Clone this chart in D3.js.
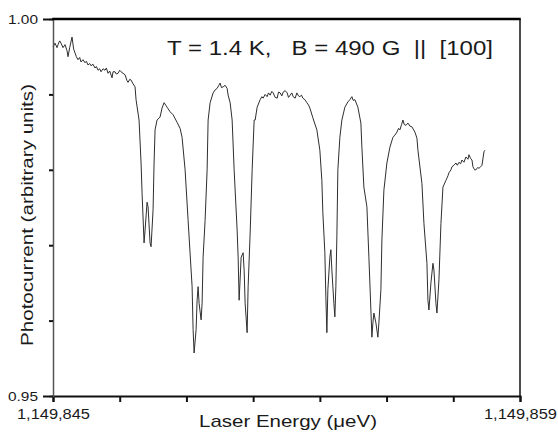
<!DOCTYPE html>
<html>
<head>
<meta charset="utf-8">
<script src="https://cdn.jsdelivr.net/npm/d3@7/dist/d3.min.js"></script>
<style>
  html, body { margin: 0; padding: 0; background: #fff; }
  svg { display: block; }
  text { font-family: "Liberation Sans", Arial, sans-serif; fill: #1a1a1a; }
</style>
</head>
<body>
<svg id="chart" width="558" height="433"></svg>
<script>
// ---- Data ----
const baseEnergy = 1149845; // μeV
const energyOffset = [
  0, 0.06, 0.12, 0.15, 0.20, 0.24, 0.30, 0.36, 0.42, 0.45, 0.50, 0.57, 0.62, 0.66, 0.70, 0.75, 0.80, 0.84, 0.90, 0.96,
  1.00, 1.05, 1.10, 1.14, 1.20, 1.26, 1.30, 1.35, 1.40, 1.44, 1.50, 1.56, 1.60, 1.65, 1.70, 1.77, 1.80, 1.86, 1.90, 1.95,
  2.00, 2.04, 2.10, 2.16, 2.22, 2.25, 2.30, 2.34, 2.40, 2.46, 2.49, 2.58, 2.64, 2.67, 2.73, 2.76, 2.82, 2.85, 2.91, 2.94,
  3.00, 3.03, 3.06, 3.12, 3.21, 3.27, 3.33, 3.39, 3.42, 3.51, 3.60, 3.72, 3.81, 3.87, 3.96, 4.05, 4.17, 4.20, 4.23, 4.29,
  4.32, 4.35, 4.38, 4.44, 4.47, 4.50, 4.56, 4.62, 4.65, 4.71, 4.80, 4.86, 4.92, 4.97, 5.01, 5.05, 5.10, 5.16, 5.22, 5.25,
  5.31, 5.37, 5.43, 5.52, 5.55, 5.58, 5.64, 5.70, 5.73, 5.76, 5.82, 5.85, 5.91, 5.97, 6.03, 6.06, 6.12, 6.21, 6.26, 6.30,
  6.36, 6.42, 6.46, 6.51, 6.56, 6.60, 6.66, 6.72, 6.76, 6.81, 6.86, 6.90, 6.96, 7.02, 7.06, 7.11, 7.16, 7.20, 7.26, 7.31,
  7.36, 7.40, 7.45, 7.49, 7.55, 7.61, 7.66, 7.70, 7.79, 7.91, 8.00, 8.06, 8.09, 8.15, 8.18, 8.21, 8.24, 8.30, 8.33, 8.36,
  8.42, 8.45, 8.48, 8.51, 8.54, 8.60, 8.66, 8.75, 8.84, 8.90, 8.96, 9.00, 9.05, 9.14, 9.23, 9.26, 9.32, 9.41, 9.47, 9.53,
  9.56, 9.59, 9.62, 9.68, 9.74, 9.77, 9.83, 9.86, 9.92, 10.01, 10.10, 10.19, 10.25, 10.31, 10.36, 10.40, 10.45, 10.49, 10.53, 10.58,
  10.64, 10.70, 10.76, 10.85, 10.91, 10.94, 11.06, 11.12, 11.21, 11.24, 11.27, 11.33, 11.39, 11.42, 11.48, 11.51, 11.57, 11.63, 11.69, 11.78,
  11.84, 11.87, 11.93, 11.96, 12.02, 12.08, 12.12, 12.17, 12.22, 12.26, 12.32, 12.38, 12.44, 12.47, 12.52, 12.56, 12.59, 12.64, 12.68, 12.73,
  12.77, 12.82, 12.86, 12.92, 12.95
];
const photocurrent = [
  0.9963, 0.9968, 0.9962, 0.9966, 0.9971, 0.9968, 0.9962, 0.9966, 0.9958, 0.9950, 0.9962, 0.9976, 0.9960, 0.9955, 0.9950, 0.9946, 0.9949, 0.9943, 0.9946, 0.9942,
  0.9944, 0.9939, 0.9941, 0.9938, 0.9940, 0.9935, 0.9937, 0.9932, 0.9934, 0.9930, 0.9934, 0.9932, 0.9935, 0.9928, 0.9931, 0.9922, 0.9930, 0.9930, 0.9927, 0.9928,
  0.9932, 0.9930, 0.9928, 0.9926, 0.9918, 0.9916, 0.9920, 0.9919, 0.9914, 0.9910, 0.9893, 0.9866, 0.9809, 0.9769, 0.9703, 0.9720, 0.9757, 0.9751, 0.9703, 0.9698,
  0.9747, 0.9809, 0.9853, 0.9866, 0.9870, 0.9882, 0.9889, 0.9885, 0.9883, 0.9877, 0.9873, 0.9863, 0.9855, 0.9843, 0.9800, 0.9733, 0.9645, 0.9588, 0.9557, 0.9588,
  0.9627, 0.9645, 0.9623, 0.9601, 0.9623, 0.9684, 0.9733, 0.9800, 0.9866, 0.9889, 0.9902, 0.9906, 0.9908, 0.9912, 0.9915, 0.9909, 0.9910, 0.9912, 0.9908, 0.9899,
  0.9889, 0.9866, 0.9800, 0.9720, 0.9684, 0.9627, 0.9684, 0.9690, 0.9667, 0.9623, 0.9584, 0.9645, 0.9716, 0.9800, 0.9866, 0.9866, 0.9883, 0.9893, 0.9897, 0.9895,
  0.9900, 0.9897, 0.9902, 0.9899, 0.9904, 0.9902, 0.9896, 0.9895, 0.9903, 0.9902, 0.9898, 0.9903, 0.9905, 0.9902, 0.9896, 0.9899, 0.9902, 0.9897, 0.9895, 0.9902,
  0.9898, 0.9897, 0.9899, 0.9895, 0.9893, 0.9889, 0.9886, 0.9882, 0.9869, 0.9853, 0.9826, 0.9786, 0.9743, 0.9690, 0.9631, 0.9584, 0.9641, 0.9684, 0.9694, 0.9667,
  0.9623, 0.9605, 0.9645, 0.9711, 0.9800, 0.9843, 0.9866, 0.9883, 0.9890, 0.9893, 0.9897, 0.9892, 0.9893, 0.9883, 0.9862, 0.9830, 0.9777, 0.9751, 0.9684, 0.9614,
  0.9578, 0.9597, 0.9610, 0.9597, 0.9578, 0.9597, 0.9641, 0.9707, 0.9773, 0.9809, 0.9830, 0.9843, 0.9846, 0.9850, 0.9855, 0.9853, 0.9860, 0.9866, 0.9860, 0.9859,
  0.9862, 0.9858, 0.9857, 0.9850, 0.9842, 0.9826, 0.9782, 0.9729, 0.9676, 0.9627, 0.9614, 0.9650, 0.9676, 0.9667, 0.9623, 0.9610, 0.9654, 0.9729, 0.9777, 0.9786,
  0.9792, 0.9796, 0.9800, 0.9804, 0.9806, 0.9809, 0.9806, 0.9810, 0.9808, 0.9813, 0.9810, 0.9817, 0.9814, 0.9820, 0.9815, 0.9813, 0.9804, 0.9800, 0.9800, 0.9803,
  0.9802, 0.9804, 0.9806, 0.9824, 0.9826
];
const xDomain = [1149845, 1149859];
const xTickValues = [1149845, 1149847, 1149849, 1149851, 1149853, 1149855, 1149857, 1149859];
const xTickLabels = ["1,149,845", "", "", "", "", "", "", "1,149,859"];
const yDomain = [0.95, 1.00];
const yTickValues = [0.95, 0.96, 0.97, 0.98, 0.99, 1.00];
const yTickLabels = ["0.95", "", "", "", "", "1.00"];
const annotation = "T = 1.4 K,   B = 490 G  ||  [100]";
const xTitle = "Laser Energy (\u03bceV)";
const yTitle = "Photocurrent (arbitrary units)";

// ---- Layout ----
const svg = d3.select("#chart");
const L = 53, R = 520, T = 19, B = 396;

const x = d3.scaleLinear().domain(xDomain).range([L, R]);
const y = d3.scaleLinear().domain(yDomain).range([B, T]);

const data = energyOffset.map((d, i) => ({ e: baseEnergy + d, p: photocurrent[i] }));

// curve
svg.append("path")
  .datum(data)
  .attr("fill", "none")
  .attr("stroke", "#2e2e2e")
  .attr("stroke-width", 1)
  .attr("stroke-linejoin", "round")
  .attr("d", d3.line().x(d => x(d.e)).y(d => y(d.p)));

// bottom axis
const gx = svg.append("g")
  .attr("transform", `translate(0,${B})`)
  .call(d3.axisBottom(x).tickValues(xTickValues).tickSize(6).tickPadding(7)
    .tickFormat((d, i) => xTickLabels[i]));
gx.select(".domain").attr("stroke", "#111").attr("stroke-width", 2);
gx.selectAll(".tick line").attr("stroke", "#111").attr("stroke-width", 2);
gx.selectAll(".tick text")
  .style("font-family", '"Liberation Sans", Arial, sans-serif')
  .style("font-size", "14px").attr("fill", "#1a1a1a")
  .each(function (d, i) {
    if (xTickLabels[i]) d3.select(this).attr("textLength", 73).attr("lengthAdjust", "spacingAndGlyphs");
  });

// left axis
const gy = svg.append("g")
  .attr("transform", `translate(${L},0)`)
  .call(d3.axisLeft(y).tickValues(yTickValues).tickSize(4).tickPadding(11)
    .tickFormat((d, i) => yTickLabels[i]));
gy.select(".domain").attr("stroke", "#555").attr("stroke-width", 1.5);
gy.selectAll(".tick line").attr("stroke", "#111").attr("stroke-width", 2)
  .attr("x2", (d, i) => yTickLabels[i] ? -10 : -4);
gy.selectAll(".tick text")
  .style("font-family", '"Liberation Sans", Arial, sans-serif')
  .style("font-size", "13px").attr("fill", "#1a1a1a")
  .each(function (d, i) {
    if (yTickLabels[i]) d3.select(this).attr("textLength", 30).attr("lengthAdjust", "spacingAndGlyphs");
  });

// frame: top and right
svg.append("line").attr("x1", L - 0.75).attr("x2", R + 0.75).attr("y1", T).attr("y2", T)
  .attr("stroke", "#000").attr("stroke-width", 2.5);
svg.append("line").attr("x1", R).attr("x2", R).attr("y1", T).attr("y2", B)
  .attr("stroke", "#111").attr("stroke-width", 1.5);

// annotation
svg.append("text")
  .attr("x", 167).attr("y", 55)
  .attr("textLength", 326).attr("lengthAdjust", "spacingAndGlyphs")
  .style("font-size", "20px")
  .style("white-space", "pre")
  .attr("xml:space", "preserve")
  .text(annotation);

// axis titles
svg.append("text")
  .attr("x", 288).attr("y", 427)
  .attr("text-anchor", "middle")
  .attr("textLength", 178).attr("lengthAdjust", "spacingAndGlyphs")
  .style("font-size", "17px")
  .text(xTitle);

svg.append("text")
  .attr("transform", "translate(33,215) rotate(-90)")
  .attr("text-anchor", "middle")
  .attr("textLength", 262).attr("lengthAdjust", "spacingAndGlyphs")
  .style("font-size", "16px")
  .text(yTitle);
</script>
</body>
</html>
